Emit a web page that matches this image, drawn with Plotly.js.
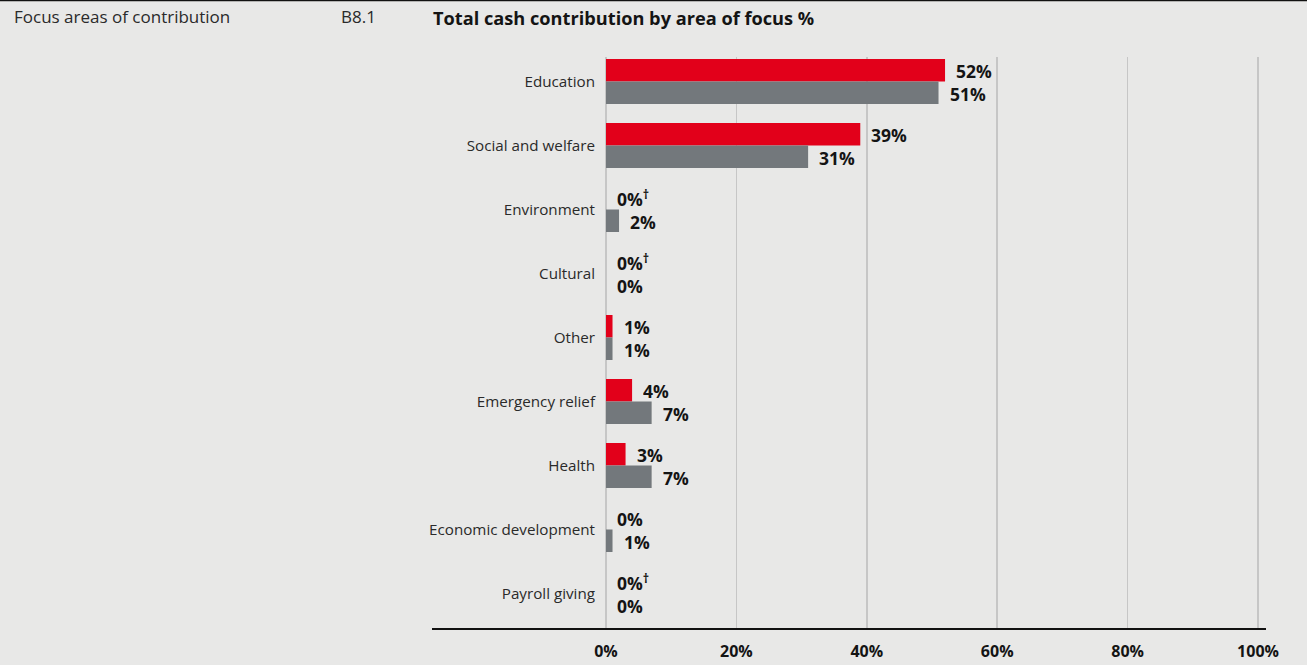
<!DOCTYPE html>
<html>
<head>
<meta charset="utf-8">
<script src="https://cdn.plot.ly/plotly-3.0.1.min.js"></script>
<style>
  html, body { margin: 0; padding: 0; background: #e8e8e7; }
  #chart { width: 1307px; height: 665px; }
</style>
</head>
<body>
<div id="chart"></div>
<script>
// ---- data ----
const categories = ["Education", "Social and welfare", "Environment", "Cultural", "Other",
  "Emergency relief", "Health", "Economic development", "Payroll giving"];
const currentValues = [52, 39, 0, 0, 1, 4, 3, 0, 0];
const priorValues   = [51, 31, 2, 0, 1, 7, 7, 1, 0];
const currentNotes  = ["", "", "†", "†", "", "", "", "", "†"];
const xTickValues = [0, 20, 40, 60, 80, 100];
const xTickLabels = ["0%", "20%", "40%", "60%", "80%", "100%"];
const titleText = "Total cash contribution by area of focus %";
const sectionText = "Focus areas of contribution";
const figureRef = "B8.1";

// ---- layout constants ----
const W = 1307, H = 665;
const plotLeft = 606, plotRight = 1265, plotTop = 57, plotBottom = 629;
const pw = plotRight - plotLeft, ph = plotBottom - plotTop;
const pxPerUnit = (1258 - 606) / 100;
const xMax = pw / pxPerUnit;
const px2x = p => (p - plotLeft) / pw;
const py2y = p => 1 - (p - plotTop) / ph;

const RED = "#e2001a", GREY = "#73787c", TXT = "#141414";
const FONT = "Open Sans, Noto Sans, sans-serif";

const traces = [
  { type: "bar", orientation: "h", name: "Current year", x: currentValues, y: categories,
    marker: { color: RED }, hoverinfo: "skip" },
  { type: "bar", orientation: "h", name: "Prior year", x: priorValues, y: categories,
    marker: { color: GREY }, hoverinfo: "skip" }
];

const annotations = [];
const barOffsetPx = 11.3;
categories.forEach((c, i) => {
  annotations.push({ x: currentValues[i], y: c, xref: "x", yref: "y",
    text: currentValues[i] + "%" + (currentNotes[i] ? "<sup>" + currentNotes[i] + "</sup>" : ""),
    showarrow: false, xanchor: "left", yanchor: "middle", xshift: 9, yshift: barOffsetPx - 0.5,
    height: 21, valign: "middle",
    font: { family: FONT, size: 17.5, color: TXT, weight: "bold" } });
  annotations.push({ x: priorValues[i], y: c, xref: "x", yref: "y",
    text: priorValues[i] + "%",
    showarrow: false, xanchor: "left", yanchor: "middle", xshift: 9, yshift: -barOffsetPx - 0.5,
    height: 21, valign: "middle",
    font: { family: FONT, size: 17.5, color: TXT, weight: "bold" } });
});
annotations.push({ x: px2x(431), y: py2y(18), xref: "paper", yref: "paper", text: titleText,
  showarrow: false, xanchor: "left", yanchor: "middle",
  font: { family: FONT, size: 18.2, color: TXT, weight: "bold" } });
annotations.push({ x: px2x(12), y: py2y(16), xref: "paper", yref: "paper", text: sectionText,
  showarrow: false, xanchor: "left", yanchor: "middle",
  font: { family: FONT, size: 17, color: "#2a2a2a" } });
annotations.push({ x: px2x(339), y: py2y(16), xref: "paper", yref: "paper", text: figureRef,
  showarrow: false, xanchor: "left", yanchor: "middle",
  font: { family: FONT, size: 17, color: "#2a2a2a" } });

const shapes = [
  { type: "line", xref: "paper", yref: "paper", x0: px2x(0), x1: px2x(W), y0: py2y(0.5), y1: py2y(0.5),
    line: { color: "#111", width: 1.5 } },
  { type: "line", xref: "paper", yref: "paper", x0: px2x(432), x1: px2x(1266), y0: 0, y1: 0,
    line: { color: "#111", width: 2 } }
];

const layout = {
  width: W, height: H,
  margin: { l: plotLeft, r: W - plotRight, t: plotTop, b: H - plotBottom, pad: 0 },
  paper_bgcolor: "#e8e8e7", plot_bgcolor: "#e8e8e7",
  barmode: "group", bargap: 0.297, bargroupgap: 0,
  showlegend: false,
  xaxis: { range: [0, xMax], tickvals: xTickValues, ticktext: xTickLabels,
    showgrid: true, gridcolor: "#c6c6c6", gridwidth: 1.5, zeroline: true, zerolinecolor: "#c6c6c6",
    zerolinewidth: 1.5, showline: false, ticks: "", ticklabelstandoff: 11,
    tickfont: { family: FONT, size: 16, color: TXT, weight: "bold" }, fixedrange: true },
  yaxis: { type: "category", range: [8.555, -0.383], autorange: false, showgrid: false,
    zeroline: false, showline: false, ticks: "", ticklabelstandoff: 10,
    tickfont: { family: FONT, size: 15.2, color: "#2a2a2a" }, fixedrange: true },
  annotations: annotations,
  shapes: shapes
};

Plotly.newPlot("chart", traces, layout, { displayModeBar: false, staticPlot: true });
</script>
</body>
</html>
